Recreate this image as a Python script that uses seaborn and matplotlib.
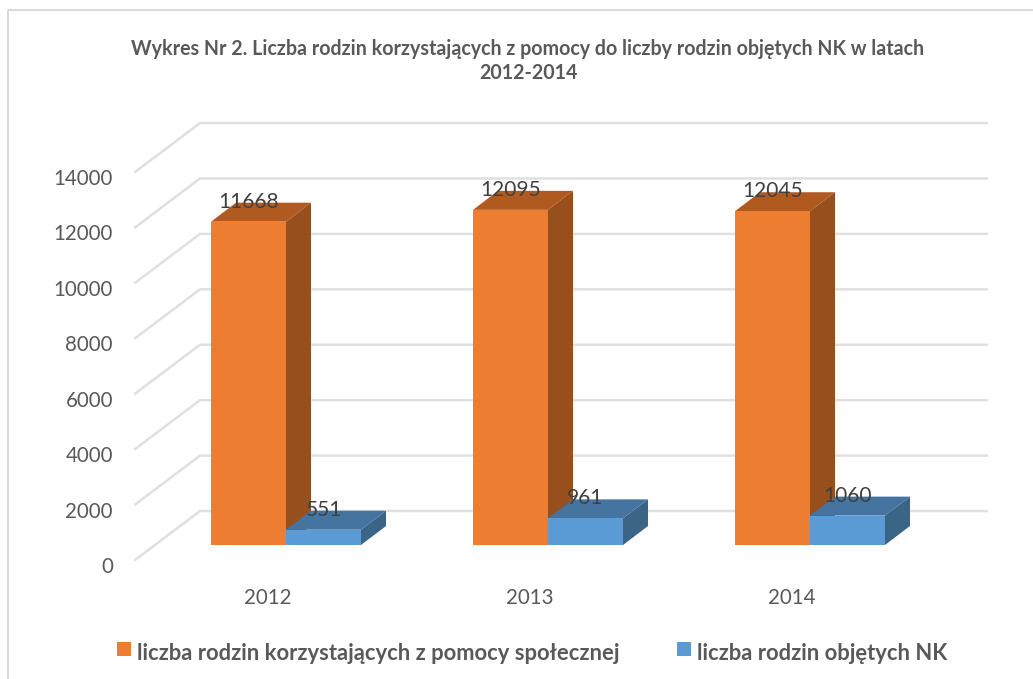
import matplotlib
matplotlib.use("Agg")
import matplotlib.pyplot as plt
import seaborn as sns
import pandas as pd
from matplotlib.patches import Polygon, Rectangle
from matplotlib.lines import Line2D
from matplotlib.transforms import ScaledTranslation, blended_transform_factory

years = ["2012", "2013", "2014"]
pomoc_label = "liczba rodzin korzystających z pomocy społecznej"
nk_label = "liczba rodzin objętych NK"
pomoc = [11668, 12095, 12045]
nk = [551, 961, 1060]
y_ticks = [0, 2000, 4000, 6000, 8000, 10000, 12000, 14000]
title = "Wykres Nr 2. Liczba rodzin korzystających z pomocy do liczby rodzin objętych NK w latach\n2012-2014"

W, H, DPI = 1033, 679, 100
sns.set_theme(style="white")
plt.rcParams["font.family"] = ["Lato", "DejaVu Sans"]

df = pd.DataFrame({
    "rok": years * 2,
    "seria": [pomoc_label] * 3 + [nk_label] * 3,
    "wartosc": pomoc + nk,
})

ORANGE, BLUE = "#ED7D31", "#5B9BD5"
GREY = "#595959"
fig = plt.figure(figsize=(W / DPI, H / DPI), dpi=DPI, facecolor="white")

# frame of the chart area: left and top edges only reach the picture
fig.add_artist(Line2D([8 / W, 8 / W, 1], [0, 1 - 10 / H, 1 - 10 / H],
                      color="#D9D9D9", lw=1.4))

# axes: left/right = wall extent, bottom = value 0 at the bar feet
L, R, BASE, TOP = 135, 987, 545, 100
ax = fig.add_axes([L / W, 1 - BASE / H, (R - L) / W, (BASE - TOP) / H])
k = 0.02771  # pixels per unit
px_cat = 262  # pixels per category
ax.patch.set_alpha(0)

sns.barplot(data=df, x="rok", y="wartosc", hue="seria", order=years,
            palette=[ORANGE, BLUE], width=150 / px_cat, gap=0, saturation=1,
            legend=False, ax=ax, zorder=5, linewidth=0)
ax.set_ylim(0, (BASE - TOP) / k)
x_left = -(286 - L) / px_cat
ax.set_xlim(x_left, x_left + (R - L) / px_cat)
ax.set_xlabel("")
ax.set_ylabel("")
sns.despine(ax=ax, left=True, bottom=True)

# wall gridlines
back_frac = (200 - L) / (R - L)
gtrans = blended_transform_factory(ax.transAxes, ax.transData)
for v in y_ticks:
    ax.plot([0, back_frac, 1], [v - 15 / k, v + 34 / k, v + 34 / k], transform=gtrans,
            color="#E0E0E0", lw=1.8, clip_on=False, zorder=1, solid_joinstyle="miter")

# depth faces drawn from the seaborn bars
dx, dy = 25 / px_cat, 19 / k
shades = {ORANGE: ("#B15A20", "#964F1D"), BLUE: ("#44749F", "#3A6587")}
bars = list(ax.patches)
for i, bar in enumerate(bars):
    x0, x1 = bar.get_x(), bar.get_x() + bar.get_width()
    y1 = bar.get_height()
    color = ORANGE if i < 3 else BLUE
    z = 3 if i < 3 else 6
    bar.set_zorder(z + 1)
    top_c, side_c = shades[color]
    ax.add_patch(Polygon([(x0, y1), (x1, y1), (x1 + dx, y1 + dy), (x0 + dx, y1 + dy)],
                         fc=top_c, ec="none", zorder=z, clip_on=False))
    ax.add_patch(Polygon([(x1, 0), (x1 + dx, dy), (x1 + dx, y1 + dy), (x1, y1)],
                         fc=side_c, ec="none", zorder=z, clip_on=False))
    ax.annotate(str(int(y1)), ((x0 + x1) / 2, y1), xytext=(0, 20 * 72 / DPI),
                textcoords="offset points", ha="center", va="center",
                fontsize=15, color="#404040", zorder=10, annotation_clip=False)

# tick labels, offset like the 3D projection
ax.set_yticks(y_ticks)
ax.set_yticklabels([str(v) for v in y_ticks], fontsize=14.8, color=GREY)
ax.tick_params(axis="y", length=0, pad=22 * 72 / DPI)
ax.tick_params(axis="x", length=0, pad=0)
ax.set_xticks(range(len(years)))
ax.set_xticklabels(years, fontsize=14.8, color=GREY)
for lab in ax.get_yticklabels():
    lab.set_transform(lab.get_transform() + ScaledTranslation(0, -20 / DPI, fig.dpi_scale_trans))
for lab in ax.get_xticklabels():
    lab.set_transform(lab.get_transform() + ScaledTranslation(-18 / DPI, -43 / DPI, fig.dpi_scale_trans))

fig.text(528 / W, 1 - 61 / H, title, ha="center", va="center", fontsize=14.1,
         fontweight="bold", color=GREY, linespacing=1.2)

# legend
for sx, col, tx, txt in [(117, ORANGE, 137, pomoc_label), (677, BLUE, 697, nk_label)]:
    fig.add_artist(Rectangle((sx / W, 1 - 656 / H), 14 / W, 14 / H, transform=fig.transFigure,
                             fc=col, ec="none"))
    fig.text(tx / W, 1 - 653 / H, txt, ha="left", va="center", fontsize=15.8,
             fontweight="bold", color=GREY)

fig.savefig("out.png", dpi=DPI)
